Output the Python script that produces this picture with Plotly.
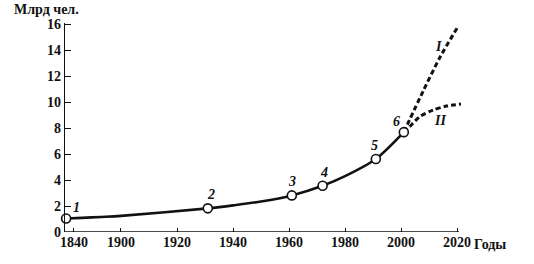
import plotly.graph_objects as go

# ---- data (years, billions of people) ----
main_years = [1830, 1850, 1875, 1900, 1931, 1940, 1950, 1961, 1972, 1980, 1991, 2001]
main_vals = [1.04, 1.09, 1.16, 1.24, 1.82, 2.05, 2.35, 2.82, 3.56, 4.3, 5.62, 7.69]

milestone_years = [1830, 1931, 1961, 1972, 1991, 2001]
milestone_vals = [1.04, 1.82, 2.82, 3.56, 5.62, 7.69]
milestone_labels = ["1", "2", "3", "4", "5", "6"]

proj_I_years = [2001, 2008, 2014, 2020]
proj_I_vals = [7.69, 10.9, 13.5, 15.7]

proj_II_years = [2001, 2003, 2006.8, 2011.5, 2016.3, 2021.4]
proj_II_vals = [7.69, 8.1, 8.9, 9.4, 9.7, 9.86]

x_tick_years = [1840, 1900, 1920, 1940, 1960, 1980, 2000, 2020]
y_ticks = [0, 2, 4, 6, 8, 10, 12, 14, 16]

# ---- axis scale: compressed before 1900 (as in the original figure) ----
COMP = 0.28


def xs(year):
    return year if year >= 1900 else 1900 - (1900 - year) * COMP


def xl(years):
    return [xs(y) for y in years]


INK = "#111111"
FONT = "Liberation Serif"

fig = go.Figure()

fig.add_trace(go.Scatter(x=xl(main_years), y=main_vals, mode="lines",
                         line=dict(color=INK, width=2.6, shape="spline", smoothing=0.8),
                         hoverinfo="skip", showlegend=False))
fig.add_trace(go.Scatter(x=xl(proj_I_years), y=proj_I_vals, mode="lines",
                         line=dict(color=INK, width=3, dash="5px,3px", shape="spline", smoothing=0.8),
                         hoverinfo="skip", showlegend=False))
fig.add_trace(go.Scatter(x=xl(proj_II_years), y=proj_II_vals, mode="lines",
                         line=dict(color=INK, width=3, dash="5px,3px", shape="spline", smoothing=0.8),
                         hoverinfo="skip", showlegend=False))
fig.add_trace(go.Scatter(x=xl(milestone_years), y=milestone_vals, mode="markers",
                         marker=dict(size=9, color="white", line=dict(color=INK, width=1.6)),
                         cliponaxis=False, showlegend=False))

# x axis line (ends at 2020, as in the original)
fig.add_shape(type="line", xref="x", yref="y", x0=xs(1828.6), x1=2020.7, y0=0, y1=0,
              line=dict(color=INK, width=1.4))

# milestone labels
offsets = [(10, 11), (3, 14), (0, 14), (1, 13), (-1, 14), (-7, 11)]
for yr, v, lab, (dx, dy) in zip(milestone_years, milestone_vals, milestone_labels, offsets):
    fig.add_annotation(x=xs(yr), y=v, text=lab, showarrow=False, xshift=dx, yshift=dy,
                       font=dict(family=FONT, size=14, color=INK, style="italic", weight="bold"))

fig.add_annotation(x=2013.3, y=14.26, text="I", showarrow=False,
                   font=dict(family=FONT, size=14, color=INK, style="italic", weight="bold"))
fig.add_annotation(x=2013.9, y=8.58, text="II", showarrow=False,
                   font=dict(family=FONT, size=14, color=INK, style="italic", weight="bold"))

# axis titles
fig.add_annotation(xref="paper", yref="paper", x=-0.132, y=1.02, xanchor="left", yanchor="bottom",
                   text="Млрд чел.", showarrow=False,
                   font=dict(family=FONT, size=14, color=INK, weight="bold"))
fig.add_annotation(xref="paper", yref="paper", x=1.015, y=0, xanchor="left", yanchor="top",
                   yshift=-3, text="Годы", showarrow=False,
                   font=dict(family=FONT, size=14, color=INK, weight="bold"))

fig.update_xaxes(range=[xs(1828.6), 2023.2], tickvals=xl(x_tick_years),
                 ticktext=[str(y) for y in x_tick_years],
                 ticks="inside", ticklen=4, tickwidth=1.2, tickcolor=INK,
                 showline=False, showgrid=False, zeroline=False,
                 tickfont=dict(family=FONT, size=14, color=INK, weight="bold"))
fig.update_yaxes(range=[0, 16.1], tickvals=y_ticks,
                 ticks="inside", ticklen=6, tickwidth=1.2, tickcolor=INK,
                 showline=True, linecolor=INK, linewidth=1.4,
                 showgrid=False, zeroline=False,
                 tickfont=dict(family=FONT, size=14, color=INK, weight="bold"))

fig.update_layout(width=534, height=264,
                  margin=dict(l=65, r=68, t=22.7, b=31.5),
                  paper_bgcolor="white", plot_bgcolor="white")

fig.write_html("out.html")
